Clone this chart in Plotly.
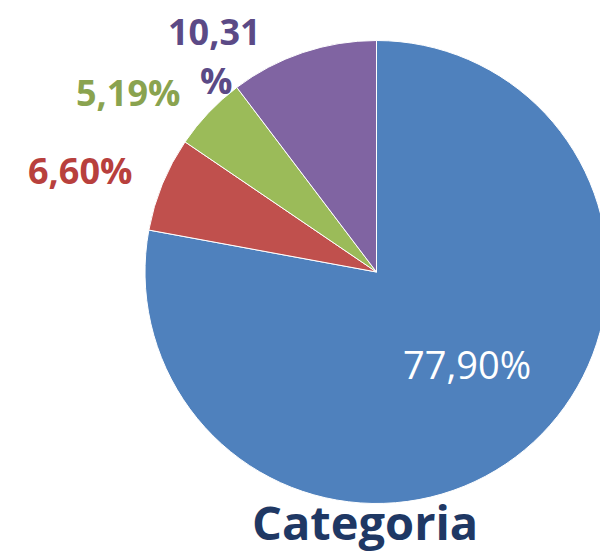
import plotly.graph_objects as go

# datos del grafico
labels = ['Azul', 'Rojo', 'Verde', 'Morado']
values = [77.90, 6.60, 5.19, 10.31]
colors = ['#4F81BD', '#C0504D', '#9BBB59', '#8064A2']
text_colors = ['#FFFFFF', '#B8403D', '#8AA34F', '#5B4A86']
titulo = 'Categoria'

# la pagina deja 8px de margen en el body
OFF = 8
W, H = 600, 547


def px(x, y):
    # pixeles de la ventana -> coordenadas de papel
    return (x - OFF) / W, 1 - (y - OFF) / H


def fmt(v):
    return f'{v:.2f}'.replace('.', ',') + '%'


pie = go.Pie(
    labels=labels,
    values=values,
    sort=False,
    direction='clockwise',
    rotation=0,
    marker=dict(colors=colors, line=dict(color='white', width=1)),
    textinfo='none',
    domain=dict(x=[137 / W, 1], y=[51 / H, 515 / H]),
    showlegend=False,
    hoverinfo='label+percent',
)

fig = go.Figure(data=[pie])

lab_font = dict(family='Open Sans', size=36, weight='bold')
annots = []

# etiqueta de dentro (azul)
x, y = px(467, 364)
annots.append(dict(x=x, y=y, xref='paper', yref='paper', text=fmt(values[0]),
                   showarrow=False, xanchor='center', yanchor='middle',
                   font=dict(family='Open Sans', size=38, color=text_colors[0])))

# etiquetas de fuera
pos = {1: (80, 170), 2: (128, 92)}
for i, p in pos.items():
    x, y = px(*p)
    annots.append(dict(x=x, y=y, xref='paper', yref='paper', text=fmt(values[i]),
                       showarrow=False, xanchor='center', yanchor='middle',
                       font=dict(lab_font, color=text_colors[i])))
# la morada va partida en dos lineas
t = fmt(values[3])
for txt, p in [(t[:-1], (214, 31)), ('%', (216, 80))]:
    x, y = px(*p)
    annots.append(dict(x=x, y=y, xref='paper', yref='paper', text=txt,
                       showarrow=False, xanchor='center', yanchor='middle',
                       font=dict(lab_font, color=text_colors[3])))

x, y = px(365, 522)
annots.append(dict(x=x, y=y, xref='paper', yref='paper', text=titulo,
                   showarrow=False, xanchor='center', yanchor='middle',
                   font=dict(family='Open Sans', size=47, weight='bold', color='#1F3864')))

fig.update_layout(
    width=W, height=H,
    margin=dict(l=0, r=0, t=0, b=0),
    paper_bgcolor='white',
    plot_bgcolor='white',
    annotations=annots,
)

fig.write_html('out.html')
